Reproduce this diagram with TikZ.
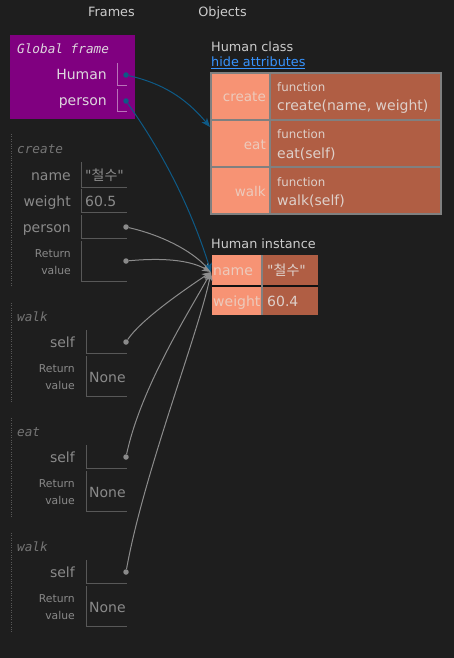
\documentclass[tikz,border=0pt]{standalone}
\usepackage{fontspec}
\setmainfont{DejaVu Sans}
\newfontfamily\framefont{DejaVu Sans Mono}
\newfontfamily\krfont{Noto Sans CJK KR}
\usetikzlibrary{arrows.meta}

\definecolor{bg}{RGB}{30,30,30}
\definecolor{hdrtxt}{RGB}{204,204,204}
\definecolor{globfill}{RGB}{128,0,128}
\definecolor{globtxt}{RGB}{222,214,222}
\definecolor{globline}{RGB}{185,115,185}
\definecolor{frametxt}{RGB}{138,138,138}
\definecolor{frameline}{RGB}{88,88,88}
\definecolor{keycell}{RGB}{247,147,116}
\definecolor{keytxt}{RGB}{236,202,188}
\definecolor{valcell}{RGB}{176,94,68}
\definecolor{valtxt}{RGB}{222,208,202}
\definecolor{tblline}{RGB}{128,128,128}
\definecolor{linkblue}{RGB}{55,148,255}
\definecolor{refblue}{RGB}{14,90,134}
\definecolor{refgray}{RGB}{140,140,140}

\begin{document}
\begin{tikzpicture}[x=1pt, y=-1pt,
    hdr/.style={font=\fontsize{12.8}{15}\selectfont, text=hdrtxt, inner sep=0},
    ftitle/.style={font=\framefont\itshape\fontsize{12.7}{15}\selectfont, text=frametxt!85!black, inner sep=0, anchor=base west},
    var/.style={font=\fontsize{14}{16}\selectfont, text=frametxt, inner sep=0, anchor=base east},
    val/.style={font=\fontsize{14}{16}\selectfont, text=frametxt, inner sep=0, anchor=base west},
    retlbl/.style={font=\fontsize{10.8}{17}\selectfont, text=frametxt, inner sep=0, align=right, anchor=east},
    small/.style={font=\fontsize{11.8}{14}\selectfont, text=valtxt, inner sep=0, anchor=base west},
    boxline/.style={frameline, line width=1},
    dot/.style={circle, fill=#1, inner sep=0, minimum size=5.5pt},
    ref/.style={#1, line width=1, -{Stealth[length=9pt, width=7pt, inset=2.5pt]}}]

\fill[bg] (0,0) rectangle (454,658);
\useasboundingbox (0,0) rectangle (454,658);

\node[hdr, anchor=base] (frames) at (111.5,17) {Frames};
\node[hdr, anchor=base] (objects) at (222.5,17) {Objects};

% global frame
\fill[globfill] (10,35) rectangle (135,119);
\node[ftitle, text=globtxt] (gTitle) at (17,54) {Global frame};
\node[var, text=globtxt] (gHumanLbl) at (107,80) {Human};
\node[var, text=globtxt] (gPersonLbl) at (107,106) {person};
\draw[globline, line width=1] (117,63) |- (127,86);
\draw[globline, line width=1] (117,89) |- (127,112);
\node[dot=refblue] (gHuman) at (126,75) {};
\node[dot=refblue] (gPerson) at (126,101) {};

% create frame
\draw[frameline, dotted] (11,134) -- (11,287);
\node[ftitle] (crTitle) at (17,153) {create};
\node[var] (crNameLbl) at (71,180) {name};
\node[var] (crWeightLbl) at (71,206) {weight};
\node[var] (crPersonLbl) at (71,232) {person};
\node[retlbl] (crRetLbl) at (71,262.5) {Return\\value};
\draw[boxline] (81,162) |- (127,187);
\draw[boxline] (81,189) |- (127,212);
\draw[boxline] (81,215) |- (127,238);
\draw[boxline] (81,241) |- (127,281);
\node[val] (crName) at (85,180) {\textquotedbl{\krfont 철수}\textquotedbl};
\node[val] (crWeight) at (85,206) {60.5};
\node[dot=frametxt] (crPerson) at (126,227) {};
\node[dot=frametxt] (crRet) at (126,261) {};

% method frames
\foreach \fr/\dy [count=\i] in {walk/0, eat/115, walk/230} {
  \draw[frameline, dotted] (11,303+\dy) -- (11,402+\dy);
  \node[ftitle] (title\i) at (17,321+\dy) {\fr};
  \node[var] (selfLbl\i) at (75,347+\dy) {self};
  \node[retlbl] (retLbl\i) at (75,377.5+\dy) {Return\\value};
  \draw[boxline] (86,330+\dy) |- (127,353+\dy);
  \draw[boxline] (86,356+\dy) |- (127,396+\dy);
  \node[val] (ret\i) at (89,382+\dy) {None};
  \node[dot=frametxt] (self\i) at (126,342+\dy) {};
}

% Human class
\node[hdr, anchor=base west] (clsTitle) at (211,52) {Human class};
\node[hdr, anchor=base west, text=linkblue] (hideLink) at (211,67) {\underline{hide attributes}};
\fill[keycell] (211,73) rectangle (270,214);
\fill[valcell] (270,73) rectangle (441,214);
\draw[tblline, line width=1.2] (211,73) rectangle (441,214)
  (211,120) -- (441,120) (211,167) -- (441,167) (270,73) -- (270,214);
\foreach \k/\sig [count=\i from 0] in {create/{create(name, weight)}, eat/{eat(self)}, walk/{walk(self)}} {
  \node[var, text=keytxt, font=\fontsize{13.5}{16}\selectfont] (clsKey\i) at (266,102+47*\i) {\k};
  \node[small] (clsFn\i) at (277,92+47*\i) {function};
  \node[val, text=valtxt] (clsSig\i) at (277,111+47*\i) {\sig};
}
\coordinate (clsIn) at (210,127);

% Human instance
\node[hdr, anchor=base west] (instTitle) at (211,248) {Human instance};
\fill[keycell] (212,255) rectangle (262,315);
\fill[valcell] (262,255) rectangle (318,315);
\draw[bg!60!black, line width=1.5] (212,286) -- (318,286);
\draw[tblline, line width=2] (262,255) -- (262,315);
\node[val, text=keytxt] (instNameKey) at (213,275) {name};
\node[val, text=keytxt] (instWeightKey) at (213,306) {weight};
\node[val, text=valtxt] (instName) at (267,275) {\textquotedbl{\krfont 철수}\textquotedbl};
\node[val, text=valtxt] (instWeight) at (267,306) {60.4};
\coordinate (instIn) at (211,272);

% references
\draw[ref=refgray] (crPerson) .. controls +(35,8) and +(-20,-22) .. (instIn);
\draw[ref=refgray] (crRet) .. controls +(45,-4) and +(-18,-10) .. (instIn);
\draw[ref=refgray] (self1) .. controls +(15,-22) and +(-30,20) .. (instIn);
\draw[ref=refgray] (self2) .. controls +(15,-70) and +(-22,40) .. (instIn);
\draw[ref=refgray] (self3) .. controls +(18,-100) and +(-12,60) .. (instIn);
\draw[ref=refblue] (gHuman) .. controls +(35,8) and +(-25,-30) .. (clsIn);
\draw[ref=refblue] (gPerson) .. controls +(25,35) and +(-25,-80) .. (instIn);
\end{tikzpicture}
\end{document}
